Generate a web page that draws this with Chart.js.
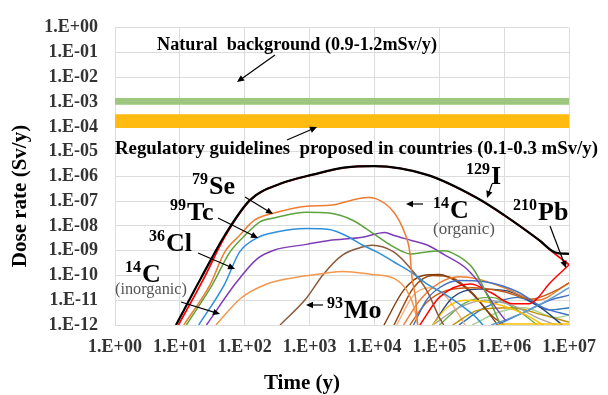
<!DOCTYPE html>
<html>
<head>
<meta charset="utf-8">
<script src="https://cdn.jsdelivr.net/npm/chart.js@4.4.1/dist/chart.umd.min.js"></script>
<style>
  html, body { margin: 0; padding: 0; background: #fff; }
  #wrap { width: 608px; height: 395px; position: relative; }
</style>
</head>
<body>
<div id="wrap"><canvas id="chart"></canvas></div>
<script>
// Dose rate of nuclides vs time after closure (log-log), with reference bands

const xTicks = [1e0, 1e1, 1e2, 1e3, 1e4, 1e5, 1e6, 1e7];
const xTickLabels = ['1.E+00', '1.E+01', '1.E+02', '1.E+03', '1.E+04', '1.E+05', '1.E+06', '1.E+07'];
const yTicks = [1e-12, 1e-11, 1e-10, 1e-9, 1e-8, 1e-7, 1e-6, 1e-5, 1e-4, 1e-3, 1e-2, 1e-1, 1e0];
const yTickLabels = ['1.E-12', '1.E-11', '1.E-10', '1.E-09', '1.E-08', '1.E-07', '1.E-06',
                     '1.E-05', '1.E-04', '1.E-03', '1.E-02', '1.E-01', '1.E+00'];

// bands in Sv/y (drawn a bit thicker than the quoted ranges, as in the figure)
const naturalBand = [7.8e-4, 1.46e-3];
const regulatoryBand = [9e-5, 3.2e-4];

// [time (y), dose rate (Sv/y)]
const i129 = [[8.7,1e-12],[21,7.6e-11],[49,4.1e-9],[120,1.1e-7],[350,5e-7],[1150,1.2e-6],[3600,2.3e-6],
  [1e4,2.6e-6],[6.5e4,1.15e-6],[3.7e5,1.4e-7],[1.05e6,2.5e-8],[3.5e6,2.6e-9],[6e6,8.7e-10],[1e7,7.4e-10]];
const redChain = [[9.5,1e-12],[23,7e-11],[50,3.9e-9],[121,1.08e-7],[350,4.95e-7],[1150,1.19e-6],[3600,2.28e-6],
  [1e4,2.58e-6],[6.5e4,1.14e-6],[3.7e5,1.38e-7],[1.05e6,2.45e-8],[3.5e6,2.55e-9],[5e6,1.1e-9],[1e7,2.7e-10]];
const c14org = [[11.5,1e-12],[29.5,4.5e-11],[49,8.7e-10],[83,4.1e-9],[141,1.7e-8],[282,3.3e-8],[891,6.3e-8],
  [2000,6.8e-8],[7900,1.4e-7],[1.02e4,1.3e-7],[2e4,3.5e-8],[2.9e4,5.4e-9],[3.5e4,8.7e-10],[3.8e4,7.6e-11],
  [4.3e4,1.2e-11],[4.6e4,1.2e-12],[4.8e4,5e-13]];
const se79 = [[12.6,1e-12],[32,4.5e-11],[59,8.7e-10],[100,4.1e-9],[174,1.5e-8],[282,2.1e-8],[891,3.6e-8],
  [2000,3.3e-8],[4600,1.7e-8],[9100,5.4e-9],[2e4,1.4e-9],[3.6e4,7.4e-10],[6e4,8.7e-10],[1.2e5,1e-9],
  [1.8e5,6.8e-10],[3.3e5,1.9e-10],[6e5,9.5e-12],[8.5e5,1.2e-12]];
const tc99 = [[19.5,1e-12],[49,4.5e-11],[83,8.7e-10],[155,3.3e-9],[282,5.4e-9],[891,7.8e-9],[2000,7.1e-9],
  [3600,4.1e-9],[6500,1.7e-9],[1.1e4,8.7e-10],[2e4,3.5e-10],[3.6e4,1.4e-10],[6.5e4,4.5e-11],[1.2e5,1.8e-11],
  [2e5,7.2e-12],[3.7e5,2e-12],[4.7e5,1e-12]];
const cl36 = [[25.7,1e-12],[71,4.5e-11],[155,4.7e-10],[282,1.05e-9],[891,1.8e-9],[2000,2.6e-9],[6500,3.5e-9],
  [1.45e4,5.4e-9],[2e4,4.1e-9],[3.7e4,2.6e-9],[6.5e4,1.7e-9],[1.2e5,6.8e-10],[2.6e5,1.9e-10],[4.7e5,3.1e-11],
  [7.4e5,5e-12],[1.05e6,1.5e-12]];
const c14inorg = [[36,1e-12],[87,1.2e-11],[219,4.5e-11],[490,7.6e-11],[1620,1.2e-10],[3240,1.45e-10],
  [9100,1.1e-10],[2e4,7.6e-11],[3.2e4,2.3e-11],[4.1e4,5e-12],[4.6e4,1.2e-12]];
const mo93 = [[350,1e-12],[890,1.2e-11],[1620,1.1e-10],[3240,6.8e-10],[6500,1.4e-9],[9100,1.65e-9],
  [2e4,8.7e-10],[3.6e4,1.9e-10],[6.5e4,2.3e-11],[1e5,2e-12],[1.17e5,1e-12]];
const pb210 = [[5e4,1e-12],[1e5,1.3e-11],[3e5,4.5e-11],[6.3e5,2e-11],[1.35e6,7.2e-12],[2.4e6,7.2e-12],
  [3.2e6,1.15e-11],[4.9e6,4.5e-11],[1e7,2.7e-10]];
const tailGreen = [[3.5e6,2.5e-9],[5.6e6,9e-10],[7e6,7.6e-10],[1e7,7.6e-10]];

// the unlabelled tangle of other nuclides after 1E+04 y
const others = [
  ['#4472C4', [[4e4,1e-12],[6.3e4,1e-11],[1e5,3.2e-11],[2e5,6.3e-11],[5e5,5.6e-11],[1.6e6,2.2e-11],[4e6,5e-12],[1e7,2.5e-12]]],
  ['#C55A11', [[3.5e4,1e-12],[6.3e4,7.9e-12],[1.3e5,2.5e-11],[3.2e5,3.2e-11],[1e6,2.2e-11],[2.5e6,1.1e-11],[6.3e6,2.5e-11],[1e7,5e-11]]],
  ['#FFC000', [[7.9e4,1e-12],[1.3e5,5e-12],[2.5e5,1e-11],[6.3e5,7.9e-12],[2e6,2.8e-12],[4e6,1e-12]]],
  ['#FFC000', [[5e5,6.3e-13],[1e6,1.1e-12],[1e7,1.1e-12]]],
  ['#5B9BD5', [[6.3e5,1e-12],[1.6e6,2.5e-12],[4e6,7.9e-12],[1e7,3.2e-11]]],
  ['#A5A5A5', [[7.9e4,1e-12],[2e5,5e-12],[5e5,1e-11],[1.3e6,6.3e-12],[3.2e6,2e-12],[6.3e6,1e-12]]],
  ['#ED7D31', [[2.8e4,1e-12],[5e4,1e-11],[1e5,5e-11],[2e5,8.9e-11],[4e5,7.1e-11],[1e6,3.2e-11],[3.2e6,1e-11],[1e7,5e-11]]],
  ['#264478', [[7.9e4,1e-12],[1.6e5,1.3e-11],[4e5,2.8e-11],[1e6,2.5e-11],[3.2e6,6.3e-12],[7.9e6,1e-12]]],
  ['#843C0C', [[1.4e4,1e-12],[2.8e4,2.5e-11],[5.6e4,1e-10],[1e5,1.1e-10],[2e5,5e-11],[4e5,1e-11],[7.9e5,1e-12]]],
  ['#70AD47', [[1e5,1e-12],[2.5e5,7.9e-12],[6.3e5,1.3e-11],[1.6e6,4e-12],[3.2e6,1e-12]]],
  ['#4472C4', [[6.3e5,7.9e-13],[2e6,3.2e-12],[5e6,1e-11],[1e7,1.6e-11]]],
  ['#BF9000', [[1.6e5,1e-12],[4e5,4e-12],[1.3e6,5e-12],[4e6,2.5e-12],[1e7,1.3e-12]]],
  ['#F4B183', [[2.2e4,1e-12],[4e4,1.6e-11],[7.1e4,3.2e-11],[1.3e5,1.3e-11],[2.5e5,1e-12]]],
  ['#2E75B6', [[2e5,1e-12],[5e5,5e-12],[1.6e6,1.3e-11],[5e6,4e-12],[1e7,5e-12]]],
  ['#9E480E', [[2e4,1e-12],[4e4,3.2e-11],[7.9e4,1e-10],[1.6e5,7.9e-11],[3.2e5,2e-11],[6.3e5,2.5e-12],[1e6,1e-12]]],
  ['#A9D18E', [[3.2e5,1e-12],[7.9e5,3.2e-12],[2e6,5e-12],[6.3e6,2e-12],[1e7,2.5e-12]]]
];

const SERIF = '"Liberation Serif", "Times New Roman", serif';

function curve(pts, color, width) {
  return {
    data: pts.map(([x, y]) => ({ x, y })),
    borderColor: color,
    borderWidth: width || 1.5,
    pointRadius: 0,
    cubicInterpolationMode: 'monotone',
    fill: false
  };
}

function band(range, color) {
  const x0 = xTicks[0], x1 = xTicks[xTicks.length - 1];
  return [
    { data: [{ x: x0, y: range[1] }, { x: x1, y: range[1] }], borderWidth: 0, borderColor: 'transparent',
      pointRadius: 0, fill: '+1', backgroundColor: color },
    { data: [{ x: x0, y: range[0] }, { x: x1, y: range[0] }], borderWidth: 0, borderColor: 'transparent',
      pointRadius: 0, fill: false }
  ];
}

const datasets = [
  curve(i129, '#000000', 2.2),
  curve(tailGreen, '#2F5D3A', 1.6),
  curve(redChain, '#FF0000', 1.8),
  curve(c14org, '#ED7D31', 1.5),
  curve(se79, '#5DA33E', 1.5),
  curve(tc99, '#2E8FDB', 1.5),
  curve(cl36, '#7E3DB8', 1.5),
  curve(c14inorg, '#F3984E', 1.5),
  curve(mo93, '#8B5A3C', 1.5),
  curve(pb210, '#FF0000', 1.5),
  ...others.map(([c, p]) => curve(p, c, 1.4)),
  ...band(naturalBand, '#9DC77F'),
  ...band(regulatoryBand, '#FFBB10')
];

function arrow(ctx, x1, y1, x2, y2) {
  const a = Math.atan2(y2 - y1, x2 - x1), h = 7, w = 3.2;
  ctx.beginPath();
  ctx.moveTo(x1, y1);
  ctx.lineTo(x2 - Math.cos(a) * h * 0.7, y2 - Math.sin(a) * h * 0.7);
  ctx.lineWidth = 1.2;
  ctx.stroke();
  ctx.beginPath();
  ctx.moveTo(x2, y2);
  ctx.lineTo(x2 - h * Math.cos(a) + w * Math.sin(a), y2 - h * Math.sin(a) - w * Math.cos(a));
  ctx.lineTo(x2 - h * Math.cos(a) - w * Math.sin(a), y2 - h * Math.sin(a) + w * Math.cos(a));
  ctx.closePath();
  ctx.fill();
}

// text squeezed/stretched to span a given width
function fitText(ctx, text, x, y, width) {
  const m = ctx.measureText(text).width;
  ctx.save();
  ctx.translate(x, y);
  ctx.scale(width / m, 1);
  ctx.fillText(text, 0, 0);
  ctx.restore();
}

function nuclide(ctx, mass, sym, x, y) {
  ctx.font = 'bold 16px ' + SERIF;
  ctx.fillText(mass, x, y - 10);
  const w = ctx.measureText(mass).width;
  ctx.font = 'bold 26px ' + SERIF;
  ctx.fillText(sym, x + w + 1, y);
}

const notes = {
  id: 'notes',
  afterDraw(chart) {
    const ctx = chart.ctx;
    ctx.save();
    ctx.fillStyle = '#000';
    ctx.strokeStyle = '#000';
    ctx.textAlign = 'left';
    ctx.textBaseline = 'alphabetic';

    ctx.font = 'bold 18px ' + SERIF;
    fitText(ctx, 'Natural  background (0.9-1.2mSv/y)', 157, 50, 280);
    fitText(ctx, 'Regulatory guidelines  proposed in countries (0.1-0.3 mSv/y)', 115, 154, 483);
    arrow(ctx, 275, 55, 237, 82);
    arrow(ctx, 287, 140, 317, 127);

    nuclide(ctx, '79', 'Se', 192, 194);
    arrow(ctx, 245, 197, 273, 214);
    nuclide(ctx, '99', 'Tc', 170, 220);
    arrow(ctx, 218, 218, 258, 238);
    nuclide(ctx, '36', 'Cl', 149, 251);
    arrow(ctx, 198, 253, 235, 269);
    nuclide(ctx, '14', 'C', 125, 282);
    arrow(ctx, 181, 302, 220, 314);
    nuclide(ctx, '93', 'Mo', 327, 318);
    arrow(ctx, 323, 305, 306, 305);
    nuclide(ctx, '14', 'C', 433, 218);
    arrow(ctx, 423, 204, 406, 204);
    nuclide(ctx, '129', 'I', 466, 184);
    arrow(ctx, 492, 184, 487, 198);
    nuclide(ctx, '210', 'Pb', 513, 220);
    arrow(ctx, 550, 226, 566, 268);

    ctx.fillStyle = '#555';
    ctx.font = '16px ' + SERIF;
    fitText(ctx, '(inorganic)', 115, 294, 72);
    fitText(ctx, '(organic)', 433, 234, 62);

    // axis titles
    ctx.fillStyle = '#000';
    ctx.font = 'bold 21px ' + SERIF;
    ctx.textAlign = 'center';
    ctx.textBaseline = 'middle';
    ctx.fillText('Time (y)', 302, 384);
    ctx.translate(21, 196);
    ctx.rotate(-Math.PI / 2);
    ctx.fillText('Dose rate (Sv/y)', 0, 0);
    ctx.restore();
  }
};

const gridColor = '#dcdcdc';
const tickFont = { family: SERIF, size: 18, weight: 'bold' };

new Chart(document.getElementById('chart'), {
  type: 'line',
  data: { datasets },
  plugins: [notes],
  options: {
    responsive: true,
    maintainAspectRatio: false,
    animation: false,
    layout: { padding: { left: 0, right: 30, top: 20, bottom: 0 } },
    plugins: { legend: { display: false }, tooltip: { enabled: false } },
    scales: {
      x: {
        type: 'logarithmic',
        min: xTicks[0],
        max: xTicks[xTicks.length - 1],
        afterBuildTicks: s => { s.ticks = xTicks.map(v => ({ value: v })); },
        afterFit: s => { s.height = 70; },
        grid: { color: gridColor, drawTicks: false },
        border: { color: gridColor },
        ticks: {
          padding: 12, color: '#333', font: tickFont, maxRotation: 0, autoSkip: false,
          callback: v => xTickLabels[xTicks.indexOf(v)]
        }
      },
      y: {
        type: 'logarithmic',
        min: yTicks[0],
        max: yTicks[yTicks.length - 1],
        afterBuildTicks: s => { s.ticks = yTicks.map(v => ({ value: v })); },
        afterFit: s => { s.width = 115; },
        grid: { color: gridColor, drawTicks: false },
        border: { color: gridColor },
        ticks: {
          padding: 17, color: '#333', font: tickFont, autoSkip: false,
          callback: v => yTickLabels[yTicks.indexOf(v)]
        }
      }
    }
  }
});
</script>
</body>
</html>
